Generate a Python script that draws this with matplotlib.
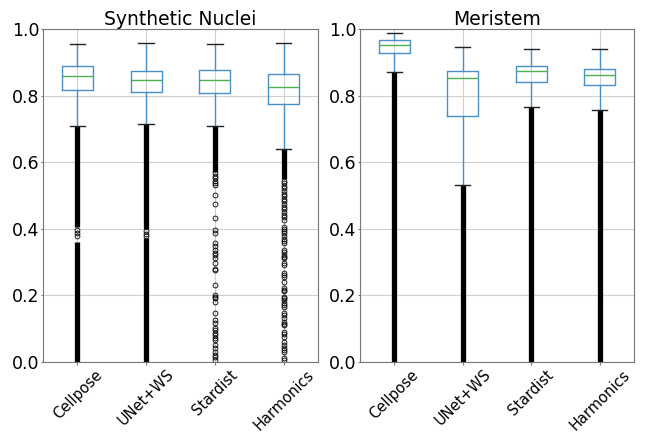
import matplotlib
matplotlib.use("Agg")
import matplotlib.pyplot as plt

categories = ["Cellpose", "UNet+WS", "Stardist", "Harmonics"]

# Synthetic Nuclei box statistics
syn_q1 = [0.816, 0.810, 0.807, 0.774]
syn_med = [0.860, 0.847, 0.846, 0.825]
syn_q3 = [0.890, 0.873, 0.876, 0.864]
syn_whislo = [0.709, 0.715, 0.709, 0.640]
syn_whishi = [0.956, 0.957, 0.954, 0.957]

# Meristem box statistics
mer_q1 = [0.929, 0.738, 0.840, 0.831]
mer_med = [0.951, 0.852, 0.874, 0.861]
mer_q3 = [0.966, 0.875, 0.890, 0.880]
mer_whislo = [0.872, 0.532, 0.767, 0.756]
mer_whishi = [0.987, 0.945, 0.941, 0.939]

# ranges where outliers are so dense they merge into a solid bar
syn_dense = [
    [(0.405, 0.709), (0.0, 0.360)],
    [(0.400, 0.715), (0.0, 0.372)],
    [(0.571, 0.709)],
    [(0.550, 0.640)],
]
mer_dense = [
    [(0.0, 0.872)],
    [(0.0, 0.532)],
    [(0.0, 0.767)],
    [(0.0, 0.756)],
]

# individual outliers
syn_fliers = [
    [0.396, 0.387, 0.378],
    [0.392, 0.385, 0.378],
    [0.567, 0.560, 0.553, 0.545, 0.538, 0.531, 0.501, 0.473, 0.431, 0.396,
     0.386, 0.358, 0.348, 0.336, 0.327, 0.321, 0.311, 0.297, 0.280, 0.276,
     0.231, 0.201, 0.196, 0.191, 0.181, 0.146, 0.126, 0.116, 0.101, 0.096,
     0.086, 0.080, 0.071, 0.066, 0.050, 0.041, 0.031, 0.021, 0.016, 0.006],
    [0.545, 0.538, 0.530, 0.522, 0.515, 0.506, 0.498, 0.490, 0.482, 0.474,
     0.466, 0.458, 0.450, 0.442, 0.434, 0.426, 0.406, 0.400, 0.394, 0.386,
     0.378, 0.370, 0.362, 0.356, 0.336, 0.330, 0.321, 0.316, 0.312, 0.297,
     0.291, 0.267, 0.261, 0.255, 0.241, 0.222, 0.216, 0.213, 0.195, 0.191,
     0.186, 0.177, 0.171, 0.165, 0.147, 0.141, 0.132, 0.120, 0.115, 0.110,
     0.091, 0.083, 0.076, 0.061, 0.050, 0.042, 0.036, 0.030, 0.012, 0.006],
]
mer_fliers = [[], [], [], []]


def build_stats(q1, med, q3, lo, hi, fliers):
    stats = []
    for i in range(len(categories)):
        stats.append({
            "label": categories[i], "q1": q1[i], "med": med[i], "q3": q3[i],
            "whislo": lo[i], "whishi": hi[i], "fliers": fliers[i],
        })
    return stats


def draw_panel(ax, title, stats, dense):
    positions = list(range(1, len(categories) + 1))
    ax.set_axisbelow(True)
    ax.grid(True, color="#d0d0d0", linewidth=0.8)
    for pos, segs in zip(positions, dense):
        for lo, hi in segs:
            ax.vlines(pos, lo, hi, color="black", linewidth=3.8, zorder=2)
    ax.bxp(
        stats, positions=positions, widths=0.45,
        boxprops=dict(color="#4a90c8", linewidth=1.0),
        whiskerprops=dict(color="#4a90c8", linewidth=1.0),
        medianprops=dict(color="#4caf50", linewidth=1.0),
        capprops=dict(color="#222222", linewidth=1.0),
        flierprops=dict(marker="o", markersize=3.5, markerfacecolor="none",
                        markeredgecolor="black", markeredgewidth=0.6),
    )
    ax.set_xlim(0.5, 4.5)
    ax.set_ylim(0, 1.0)
    ax.set_yticks([0.0, 0.2, 0.4, 0.6, 0.8, 1.0])
    ax.set_xticks(positions)
    ax.set_xticklabels(categories, rotation=45, ha="center", fontsize=10.5)
    ax.tick_params(axis="y", labelsize=12.5, length=1.5, pad=1, color="#777777")
    ax.tick_params(axis="x", length=2, pad=1.5, color="#777777")
    ax.set_title(title, fontsize=13.5, pad=2)
    for sp in ax.spines.values():
        sp.set_color("#777777")
        sp.set_linewidth(0.8)


fig = plt.figure(figsize=(6.48, 4.33), dpi=100)
ax1 = fig.add_axes([0.0664, 0.164, 0.4243, 0.769])
ax2 = fig.add_axes([0.5556, 0.164, 0.4228, 0.769])

draw_panel(ax1, "Synthetic Nuclei",
           build_stats(syn_q1, syn_med, syn_q3, syn_whislo, syn_whishi, syn_fliers),
           syn_dense)
draw_panel(ax2, "Meristem",
           build_stats(mer_q1, mer_med, mer_q3, mer_whislo, mer_whishi, mer_fliers),
           mer_dense)

fig.savefig("out.png", dpi=100, facecolor="white")
